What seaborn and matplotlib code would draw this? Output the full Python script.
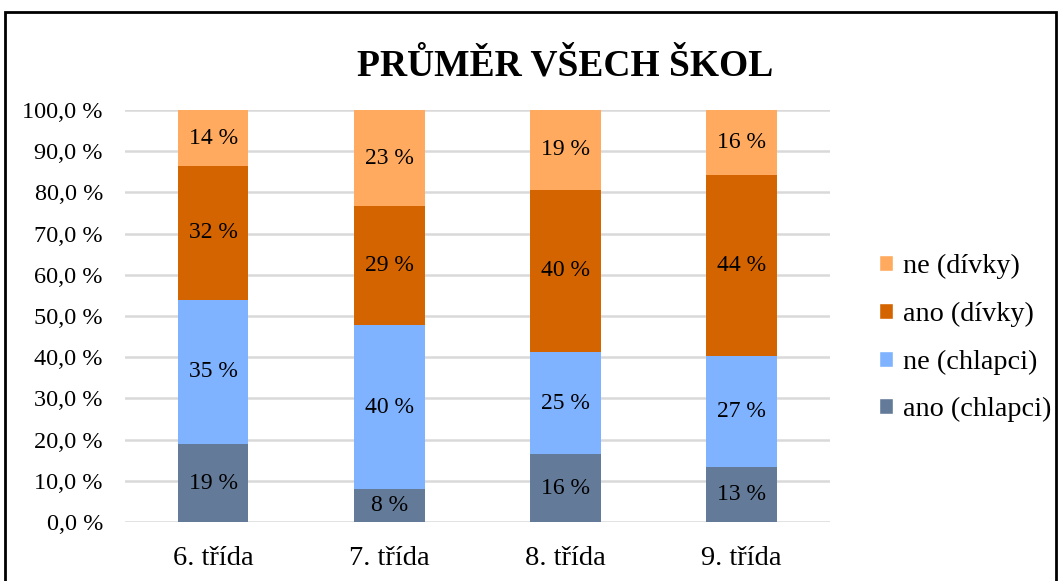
import numpy as np
import pandas as pd
import matplotlib
matplotlib.use("Agg")
import matplotlib.pyplot as plt
import seaborn as sns
from matplotlib.patches import Rectangle, Patch

# data (podíly v %)
tridy = ["6. třída", "7. třída", "8. třída", "9. třída"]
ano_chlapci = [18.9, 8.0, 16.4, 13.4]
ne_chlapci = [35.1, 39.8, 24.8, 26.8]
ano_divky = [32.4, 28.8, 39.5, 44.0]
ne_divky = [13.6, 23.4, 19.3, 15.8]

serie = ["ano (chlapci)", "ne (chlapci)", "ano (dívky)", "ne (dívky)"]
barvy = {"ano (chlapci)": "#647A99", "ne (chlapci)": "#7FB2FF",
         "ano (dívky)": "#D46400", "ne (dívky)": "#FFAA5F"}

df = pd.DataFrame({"trida": tridy, "ano (chlapci)": ano_chlapci,
                   "ne (chlapci)": ne_chlapci, "ano (dívky)": ano_divky,
                   "ne (dívky)": ne_divky})
kum = df[serie].cumsum(axis=1)

sns.set_theme(style="white")
plt.rcParams["font.family"] = ["Liberation Serif", "DejaVu Serif"]
plt.rcParams["text.color"] = "black"
plt.rcParams["xtick.color"] = "black"
plt.rcParams["ytick.color"] = "black"

fig = plt.figure(figsize=(10.61, 5.81), dpi=100)
ax = fig.add_axes([0.118, 0.1015, 0.664, 0.7092])

# skládané sloupce: kreslí se od nejvyššího součtu dolů
for s in serie[::-1]:
    sns.barplot(x=df["trida"], y=kum[s], color=barvy[s], width=0.4,
                saturation=1, ax=ax, zorder=3, linewidth=0)

# popisky hodnot
for i in range(len(tridy)):
    spodek = 0
    for s in serie:
        v = df.loc[i, s]
        ax.text(i, spodek + v / 2, f"{v:.0f} %", ha="center", va="center",
                fontsize=17, color="black", zorder=4)
        spodek += v

ax.set_ylim(0, 100)
ax.set_xlim(-0.5, 3.5)
ax.set_yticks(np.arange(0, 101, 10))
ax.set_yticklabels([f"{t:.1f} %".replace(".", ",") for t in np.arange(0, 101, 10)],
                   fontsize=17.5)
ax.tick_params(axis="x", labelsize=20.5, pad=17, length=0)
ax.tick_params(axis="y", length=0, pad=16)
ax.set_xlabel("")
ax.set_ylabel("")
ax.yaxis.grid(True, color="#D9D9D9", linewidth=1.8, zorder=0)
ax.set_axisbelow(True)
for sp in ax.spines.values():
    sp.set_visible(False)

fig.text(0.533, 0.887, "PRŮMĚR VŠECH ŠKOL", ha="center", va="center",
         fontsize=27, fontweight="bold")

handles = [Patch(facecolor=barvy[s], label=s) for s in serie[::-1]]
fig.legend(handles=handles, loc="center left", bbox_to_anchor=(0.818, 0.418),
           frameon=False, fontsize=20.3, handlelength=0.5, handleheight=0.5,
           handletextpad=0.35, labelspacing=0.8, borderaxespad=0)

# rámeček kolem grafu
fig.patches.append(Rectangle((0.005, -0.01), 0.99, 0.99, transform=fig.transFigure,
                             fill=False, edgecolor="black", linewidth=2))

fig.savefig("out.png", dpi=100)
